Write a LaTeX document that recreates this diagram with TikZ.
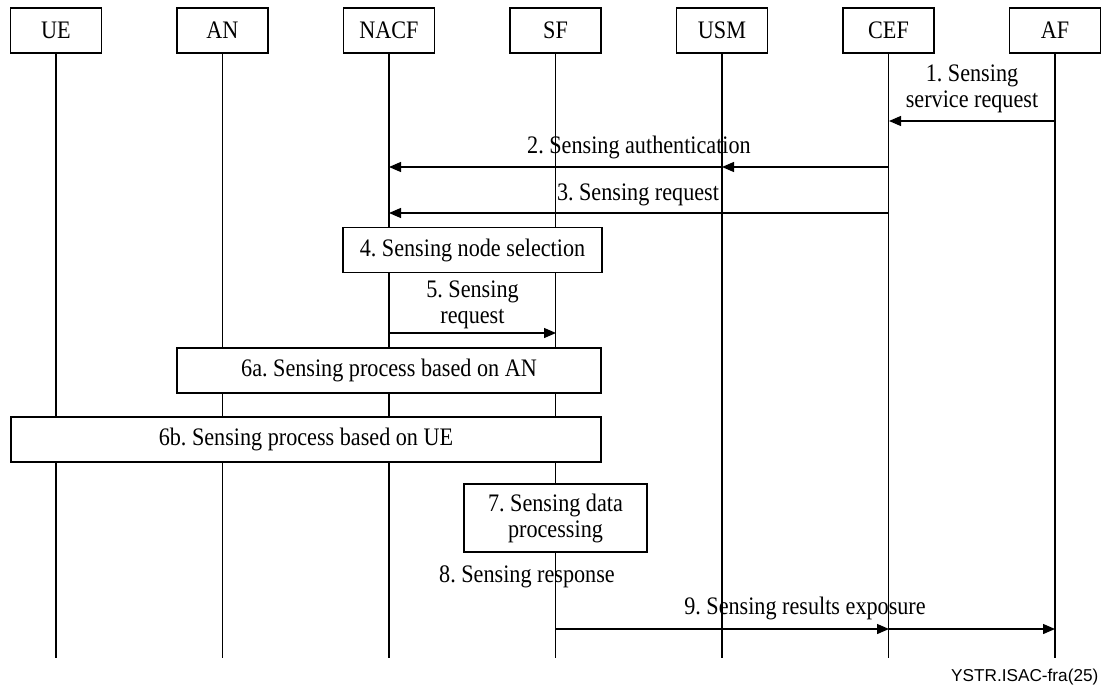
\documentclass[tikz,border=0pt]{standalone}
\RequirePackage{fontspec}
\RequirePackage{tikz}
\usetikzlibrary{arrows.meta}
\setmainfont{Liberation Serif}[FakeStretch=0.88]
\newfontfamily\refsans{Liberation Sans}
\frenchspacing

\begin{document}
\begin{tikzpicture}[x=0.5pt,y=-0.5pt,line width=0.65pt,
                    every node/.style={font=\fontsize{12.6}{13}\selectfont},
                    entity/.style={draw,fill=white,minimum width=45.5pt,minimum height=22.5pt,inner sep=0pt},
                    stepbox/.style={draw,fill=white,inner sep=0pt,align=center,minimum height=22.5pt},
                    msg/.style={-{Triangle[length=6pt,width=5pt]}},
                    lbl/.style={align=center,inner sep=0pt}]
                    \useasboundingbox (0,0) rectangle (1102,690);

                    \foreach \n/\t [count=\i from 0] in {ue/UE,an/AN,nacf/NACF,sf/SF,usm/USM,cef/CEF,af/AF} {
                        \node[entity] (\n) at (56+166.5*\i,30.5) {\t};
                        \coordinate (\n-end) at (56+166.5*\i,658);
                        \draw (\n) -- (\n-end);
                    }

                    \coordinate (m1-af) at (1055,121);
                    \coordinate (m1-cef) at (889,121);
                    \draw[msg] (m1-af) -- (m1-cef);
                    \node[lbl] (l1) at (972,89) {1. Sensing\\service request};

                    \coordinate (m2-cef) at (889,167);
                    \coordinate (m2-usm) at (722,167);
                    \coordinate (m2-nacf) at (389,167);
                    \draw[msg] (m2-cef) -- (m2-usm);
                    \draw[msg] (m2-usm) -- (m2-nacf);
                    \node[lbl] (l2) at (639,147) {2. Sensing authentication};

                    \coordinate (m3-cef) at (889,213);
                    \coordinate (m3-nacf) at (389,213);
                    \draw[msg] (m3-cef) -- (m3-nacf);
                    \node[lbl] (l3) at (638,195) {3. Sensing request};

                    \node[stepbox,minimum width=129.5pt] (s4) at (472.5,250) {4. Sensing node selection};

                    \coordinate (m5-nacf) at (389,333);
                    \coordinate (m5-sf) at (556,333);
                    \draw[msg] (m5-nacf) -- (m5-sf);
                    \node[lbl] (l5) at (472.5,305) {5. Sensing\\request};

                    \node[stepbox,minimum width=212pt] (s6a) at (389,370.5) {6a. Sensing process based on AN};
                    \node[stepbox,minimum width=295pt] (s6b) at (306,439.5) {6b. Sensing process based on UE};

                    \node[stepbox,minimum width=91.5pt,minimum height=34pt] (s7) at (555.5,518) {7. Sensing data\\processing};

                    \node[lbl] (l8) at (527,577) {8. Sensing response};

                    \coordinate (m9-sf) at (556,629);
                    \coordinate (m9-cef) at (889,629);
                    \coordinate (m9-af) at (1055,629);
                    \draw[msg] (m9-sf) -- (m9-cef);
                    \draw[msg] (m9-cef) -- (m9-af);
                    \node[lbl] (l9) at (805,608) {9. Sensing results exposure};

                    \node[anchor=east,inner sep=0pt,font=\refsans\fontsize{8.6}{10}\selectfont] (ref) at (1099,677) {YSTR.ISAC-fra(25)};
                \end{tikzpicture}
\end{document}
